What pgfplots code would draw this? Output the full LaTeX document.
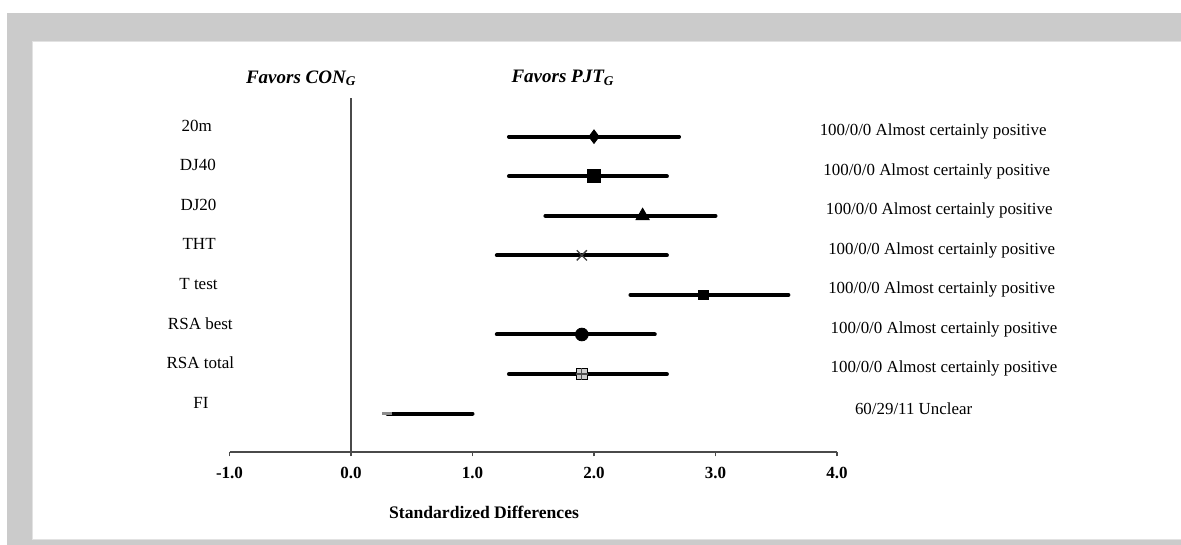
\documentclass[border=0pt]{standalone}
\usepackage{pgfplots}
\pgfplotsset{compat=1.18}
\usepackage{fontspec}
\setmainfont{Liberation Serif}
\definecolor{framegray}{HTML}{CBCBCB}
\definecolor{frameedge}{HTML}{E2E2E2}
\definecolor{axisgray}{HTML}{4A4A4A}

\newcommand{\catfont}{\fontsize{8.5}{10}\selectfont}
\newcommand{\notefont}{\fontsize{8.45}{10}\selectfont}

\begin{document}
\begin{tikzpicture}[x=0.5pt,y=0.5pt]
% page frame
\path[use as bounding box] (0,0) rectangle (1181,545);
\fill[white] (0,0) rectangle (1181,545);
\fill[framegray] (7,0) rectangle (1181,532.3);
\fill[frameedge] (32.3,5) rectangle (1181,504.3);
\fill[white] (33.3,6) rectangle (1181,503.3);

\begin{axis}[
  at={(114.75pt,46.5pt)}, anchor=south west,
  scale only axis, width=303.75pt, height=176.85pt,
  xmin=-1, xmax=4, ymin=-0.97, ymax=7.97,
  clip=false,
  axis x line=bottom, axis y line=none,
  x axis line style={-, axisgray, line width=0.8pt},
  xtick={-1,0,1,2,3,4},
  ytick=\empty,
  tick align=outside, major tick length=2.2pt,
  tick style={axisgray, line width=0.8pt},
  xticklabel style={font=\bfseries\fontsize{8.5}{10}\selectfont, yshift=-2pt},
  /pgf/number format/fixed,
  /pgf/number format/fixed zerofill,
  /pgf/number format/precision=1,
  /pgf/number format/assume math mode=true,
]
% zero line
\draw[axisgray, line width=0.8pt] (axis cs:0,-0.97) -- (axis cs:0,7.97);

% confidence intervals (lower, upper)
\pgfplotsset{ci/.style={black, line width=2pt, line cap=round, mark=none}}
\addplot[ci] coordinates {(1.3,7) (2.7,7)};
\addplot[ci] coordinates {(1.3,6) (2.6,6)};
\addplot[ci] coordinates {(1.6,5) (3.0,5)};
\addplot[ci] coordinates {(1.2,4) (2.6,4)};
\addplot[ci] coordinates {(2.3,3) (3.6,3)};
\addplot[ci] coordinates {(1.2,2) (2.5,2)};
\addplot[ci] coordinates {(1.3,1) (2.6,1)};
\addplot[ci] coordinates {(0.3,0) (1.0,0)};

% point estimates
\addplot[only marks, mark=diamond*, mark size=3.4pt, black] coordinates {(2.0,7)};
\addplot[only marks, mark=square*, mark size=3.2pt, black] coordinates {(2.0,6)};
\addplot[only marks, mark=triangle*, mark size=3.8pt, black] coordinates {(2.4,5)};
\addplot[only marks, mark=x, mark size=3.6pt, black!75, line width=0.7pt] coordinates {(1.9,4)};
\addplot[only marks, mark=square*, mark size=2.4pt, black] coordinates {(2.9,3)};
\addplot[only marks, mark=*, mark size=3.2pt, black] coordinates {(1.9,2)};
\addplot[only marks, mark=square*, mark size=2.6pt, draw=none, fill=black!20] coordinates {(1.9,1)};
\addplot[only marks, mark=+, mark size=2.9pt, black!70, line width=0.6pt] coordinates {(1.9,1)};
\addplot[only marks, mark=-, mark size=2.5pt, black!45, line width=1.6pt] coordinates {(0.3,0)};

% category names
\node[font=\catfont] at (axis cs:-1.27,7.28) {20m};
\node[font=\catfont] at (axis cs:-1.26,6.28) {DJ40};
\node[font=\catfont] at (axis cs:-1.255,5.28) {DJ20};
\node[font=\catfont] at (axis cs:-1.25,4.28) {THT};
\node[font=\catfont] at (axis cs:-1.255,3.28) {T test};
\node[font=\catfont] at (axis cs:-1.24,2.28) {RSA best};
\node[font=\catfont] at (axis cs:-1.24,1.28) {RSA total};
\node[font=\catfont] at (axis cs:-1.235,0.28) {FI};

% magnitude-based inference outcomes
\node[anchor=west, font=\notefont] at (axis cs:3.80,7.13) {100/0/0 Almost certainly positive};
\node[anchor=west, font=\notefont] at (axis cs:3.83,6.13) {100/0/0 Almost certainly positive};
\node[anchor=west, font=\notefont] at (axis cs:3.85,5.13) {100/0/0 Almost certainly positive};
\node[anchor=west, font=\notefont] at (axis cs:3.87,4.13) {100/0/0 Almost certainly positive};
\node[anchor=west, font=\notefont] at (axis cs:3.87,3.13) {100/0/0 Almost certainly positive};
\node[anchor=west, font=\notefont] at (axis cs:3.89,2.13) {100/0/0 Almost certainly positive};
\node[anchor=west, font=\notefont] at (axis cs:3.89,1.13) {100/0/0 Almost certainly positive};
\node[anchor=west, font=\notefont] at (axis cs:4.09,0.13) {60/29/11 Unclear};

% direction headers
\node[font=\bfseries\itshape\fontsize{9.5}{11}\selectfont] at (axis cs:-0.41,8.48) {Favors CON\textsubscript{G}};
\node[font=\bfseries\itshape\fontsize{9.5}{11}\selectfont] at (axis cs:1.745,8.48) {Favors PJT\textsubscript{G}};

% axis title
\node[font=\bfseries\fontsize{8.8}{10}\selectfont] at (axis cs:1.095,-2.49) {Standardized Differences};
\end{axis}
\end{tikzpicture}
\end{document}
